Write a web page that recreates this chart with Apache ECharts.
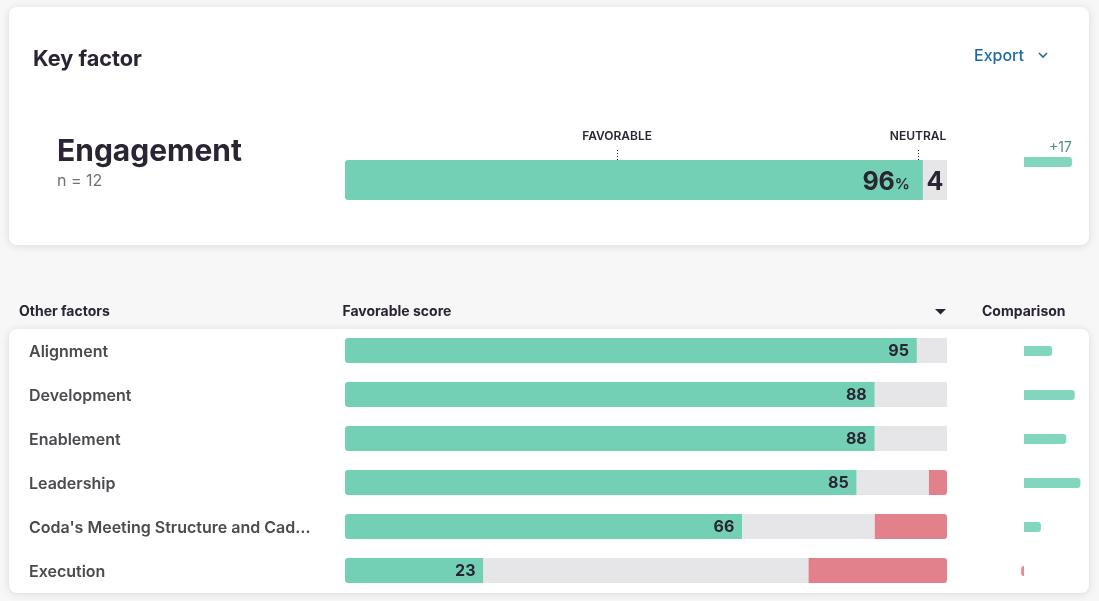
<!DOCTYPE html>
<html>
<head>
<meta charset="utf-8">
<style>html,body{margin:0;padding:0;background:#f7f7f7}#c{width:1099px;height:601px}</style>
<script src="https://cdn.jsdelivr.net/npm/echarts@6/dist/echarts.min.js"></script>
</head>
<body>
<div id="c"></div>
<script>
const categories = ['Alignment','Development','Enablement','Leadership',"Coda's Meeting Structure and Cad…",'Execution'];
const favorable = [95,88,88,85,66,23];
const neutral = [5,12,12,12,22,54];
const unfavorable = [0,0,0,3,12,23];
const comparison = [10,18,15,20,6,-1];
const keyName = ['Engagement'];
const keyFavorable = [96];
const keyNeutral = [4];
const keyComparison = [17];
const benchmarks = [['FAVORABLE',45.2],['NEUTRAL',95.2]];

const INK='#2a2433', GREEN='#74d0b5', GREY='#e6e6e8', RED='#e2818c', CGREEN='#83d6be', CRED='#ea8a98';
const FONT='Inter, sans-serif';
const pctAxis=i=>({type:'value',gridIndex:i,min:0,max:100,show:false});
const cmpAxis=i=>({type:'value',gridIndex:i,min:-5,max:25,show:false});
const catAxis=(i,d)=>({type:'category',gridIndex:i,data:d,inverse:true,show:false});
const txt=(x,y,text,size,weight,fill,align)=>({type:'text',x,y,silent:true,
  style:{text,fontFamily:FONT,fontSize:size,fontWeight:weight,fill,align:align||'left',verticalAlign:'middle'}});
const cmpData=a=>a.map(v=>({value:v,itemStyle:{color:v<0?CRED:CGREEN,borderRadius:v<0?[3,0,0,3]:[0,3,3,0]}}));

const option={
  animation:false,
  backgroundColor:'#f7f7f7',
  textStyle:{fontFamily:FONT},
  grid:[
    {left:345,width:602,top:160,height:40},
    {left:345,width:602,top:328.5,height:264},
    {left:1009.9,width:84.6,top:152,height:20},
    {left:1009.9,width:84.6,top:329,height:264},
    {left:345,width:602,top:149,height:11}
  ],
  xAxis:[pctAxis(0),pctAxis(1),cmpAxis(2),cmpAxis(3),pctAxis(4)],
  yAxis:[
    catAxis(0,keyName),
    {type:'category',gridIndex:1,data:categories,inverse:true,
      axisLine:{show:false},axisTick:{show:false},
      axisLabel:{align:'left',margin:316,formatter:'{a|{value}}',
        rich:{a:{fontFamily:FONT,fontSize:16,fontWeight:600,color:'#4a4a4f',padding:[4,0,0,0]}}}},
    catAxis(2,keyName),
    catAxis(3,categories),
    {type:'value',gridIndex:4,min:0,max:1,show:false}
  ],
  series:[
    {type:'bar',xAxisIndex:0,yAxisIndex:0,stack:'k',barWidth:40,data:keyFavorable,
      itemStyle:{color:GREEN,borderRadius:[3,0,0,3]},
      label:{show:true,position:'insideRight',distance:13,offset:[0,2],
        formatter:p=>'{a|'+p.value+'}{b|%}',
        rich:{a:{fontFamily:FONT,fontSize:25,fontWeight:700,color:INK},
              b:{fontFamily:FONT,fontSize:15,fontWeight:600,color:INK,padding:[4,0,0,0]}}}},
    {type:'bar',xAxisIndex:0,yAxisIndex:0,stack:'k',barWidth:40,data:keyNeutral,
      itemStyle:{color:GREY},
      label:{show:true,position:'inside',offset:[0,2],fontFamily:FONT,fontSize:25,fontWeight:700,color:INK}},
    {type:'bar',xAxisIndex:1,yAxisIndex:1,stack:'r',barWidth:25,data:favorable,
      itemStyle:{color:GREEN,borderRadius:[3,0,0,3]},
      label:{show:true,position:'insideRight',distance:8,offset:[0,1],fontFamily:FONT,fontSize:16,fontWeight:700,color:INK}},
    {type:'bar',xAxisIndex:1,yAxisIndex:1,stack:'r',barWidth:25,data:neutral,itemStyle:{color:GREY}},
    {type:'bar',xAxisIndex:1,yAxisIndex:1,stack:'r',barWidth:25,data:unfavorable,
      itemStyle:{color:RED,borderRadius:[0,3,3,0]}},
    {type:'bar',xAxisIndex:2,yAxisIndex:2,barWidth:10,data:cmpData(keyComparison),
      label:{show:true,position:'insideTopRight',distance:0,offset:[0,-16],
        formatter:p=>(p.value>0?'+':'')+p.value,fontFamily:FONT,fontSize:14,color:'#4f8f7c'}},
    {type:'bar',xAxisIndex:3,yAxisIndex:3,barWidth:10,data:cmpData(comparison)},
    {type:'line',xAxisIndex:4,yAxisIndex:4,data:[],symbol:'none',
      markLine:{silent:true,symbol:'none',
        lineStyle:{color:INK,type:[1,2],width:1},
        label:{show:true,position:'end',distance:7,formatter:'{b}',fontFamily:FONT,fontSize:12,fontWeight:600,color:INK},
        data:benchmarks.map(b=>({name:b[0],xAxis:b[1]}))}}
  ],
  graphic:[
    {type:'rect',z:-10,silent:true,shape:{x:9,y:7,width:1080,height:238,r:8},
      style:{fill:'#fff',shadowBlur:8,shadowOffsetY:1,shadowColor:'rgba(0,0,0,0.12)'}},
    {type:'rect',z:-10,silent:true,shape:{x:9,y:329,width:1080,height:264,r:8},
      style:{fill:'#fff',shadowBlur:8,shadowOffsetY:1,shadowColor:'rgba(0,0,0,0.12)'}},
    txt(33,59,'Key factor',21.7,700,INK),
    txt(974,56,'Export',16,500,'#1c6aa8'),
    {type:'polyline',silent:true,shape:{points:[[1039,53],[1043,57],[1047,53]]},
      style:{fill:'none',stroke:'#1c6aa8',lineWidth:1.6}},
    txt(57,152,keyName[0],30,700,INK),
    txt(57,181,'n = 12',16,400,'#6f6f76'),
    txt(19,312,'Other factors',14,700,INK),
    txt(342.5,312,'Favorable score',14,700,INK),
    txt(982,312,'Comparison',14,700,INK),
    {type:'polygon',silent:true,shape:{points:[[935,309],[946,309],[940.5,314.5]]},style:{fill:INK}}
  ]
};
echarts.init(document.getElementById('c')).setOption(option);
</script>
</body>
</html>
